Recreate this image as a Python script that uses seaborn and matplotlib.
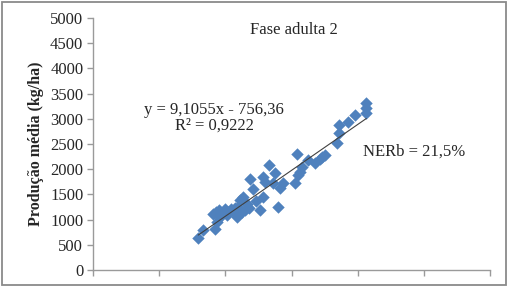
import matplotlib
matplotlib.use("Agg")
import matplotlib.pyplot as plt
import seaborn as sns
import numpy as np
import pandas as pd
from matplotlib.patches import Rectangle

# Data
x_vals = [159, 166, 184, 187, 181, 186, 190, 195, 199, 204, 208, 192, 202, 211,
          217, 222, 230, 225, 227, 235, 237, 242, 252, 257, 257, 260, 266, 272,
          275, 280, 282, 287, 305, 310, 308, 313, 316, 325, 335, 343, 350, 346,
          368, 371, 371, 386, 396, 413, 413, 413, 232, 246, 214, 219]
y_vals = [629, 794, 813, 958, 1100, 1150, 1180, 1120, 1200, 1150, 1210, 1050, 1090, 1170,
          1058, 1389, 1190, 1157, 1454, 1224, 1800, 1601, 1190, 1454, 1851, 1752, 2083, 1720,
          1918, 1256, 1621, 1720, 1720, 1885, 2302, 1950, 2050, 2183, 2117, 2200, 2282, 2250,
          2513, 2712, 2877, 2943, 3075, 3308, 3208, 3109, 1300, 1370, 1230, 1250]
slope = 9.1055
intercept = -756.36
title = "Fase adulta 2"
eq_text = "y = 9,1055x - 756,36\nR² = 0,9222"
ner_text = "NERb = 21,5%"
y_ticks = [0, 500, 1000, 1500, 2000, 2500, 3000, 3500, 4000, 4500, 5000]
x_ticks = [0, 100, 200, 300, 400, 500, 600]

df = pd.DataFrame({"x": x_vals, "y": y_vals})

sns.set_style("white")
plt.rcParams["font.family"] = ["Liberation Serif", "DejaVu Serif"]

fig = plt.figure(figsize=(5.11, 2.89), dpi=100)
ax = fig.add_axes([0.182, 0.066, 0.777, 0.872])

# trend line
xl = np.array([min(x_vals), max(x_vals)])
ax.plot(xl, slope * xl + intercept, color="#404040", lw=0.8, zorder=3)

sns.scatterplot(data=df, x="x", y="y", marker="D", s=40, color="#4F81BD",
                edgecolor="#4F81BD", linewidth=0, ax=ax, zorder=2)

ax.set_xlim(0, 600)
ax.set_ylim(0, 5000)
ax.set_xticks(x_ticks)
ax.set_xticklabels([])
ax.set_yticks(y_ticks)
ax.set_yticklabels([str(v) for v in y_ticks], fontsize=12)
ax.set_xlabel("")
ax.set_ylabel("Produção média (kg/ha)", fontsize=11.5, fontweight="bold", labelpad=4)

for s in ["top", "right"]:
    ax.spines[s].set_visible(False)
for s in ["left", "bottom"]:
    ax.spines[s].set_color("#9a9a9a")
    ax.spines[s].set_linewidth(1.0)
ax.tick_params(axis="both", direction="out", length=4, color="#9a9a9a", width=1,
               left=True, bottom=True, pad=3)

ax.text(0.5055, 0.952, title, transform=ax.transAxes, ha="center", va="center", fontsize=12)
ax.text(0.305, 0.605, eq_text, transform=ax.transAxes, ha="center", va="center",
        fontsize=12, linespacing=0.95)
ax.text(0.68, 0.47, ner_text, transform=ax.transAxes, ha="left", va="center", fontsize=12)

fig.patches.append(Rectangle((2 / 511, 1 - 285 / 289), 504 / 511, 283 / 289,
                             transform=fig.transFigure, fill=False,
                             edgecolor="#8a8a8a", linewidth=1.3))

fig.savefig("out.png", dpi=100)
